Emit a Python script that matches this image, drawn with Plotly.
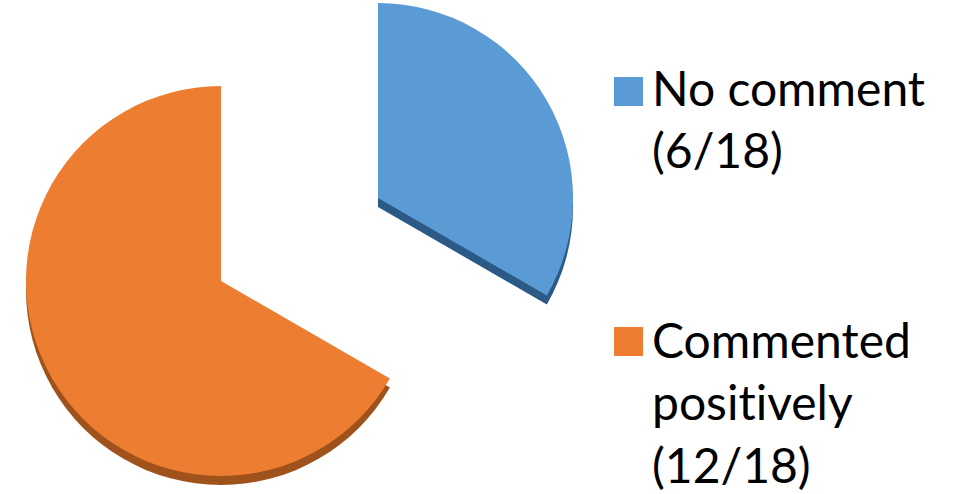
import plotly.graph_objects as go

# ---- data ----
labels = ["No comment", "Commented positively"]
legend_texts = ["No comment<br>(6/18)", "Commented<br>posit\u200cively<br>(12/18)"]
values = [6, 12]
colors = ["#5B9BD5", "#ED7D31"]
edge_colors = ["#2C5A86", "#A0521C"]

W, H = 959, 494
R = 195          # pie radius in px
DEPTH = 9        # 3D edge thickness in px
centers = [(378, 198), (221, 281)]  # apex position of each exploded slice

def dom(cx, cy):
    return dict(x=[(cx - R) / W, (cx + R) / W],
                y=[1 - (cy + R) / H, 1 - (cy - R) / H])

fig = go.Figure()
clear = "rgba(0,0,0,0)"
order = [1, 0]
for i in order:
    for shade, dy in ((edge_colors, DEPTH), (colors, 0)):
        cols = [clear, clear]
        cols[i] = shade[i]
        cx, cy = centers[i]
        fig.add_trace(go.Pie(
            labels=labels, values=values, sort=False,
            direction="clockwise", rotation=0,
            marker=dict(colors=cols, line=dict(width=0)),
            textinfo="none", hoverinfo="label+value",
            showlegend=False, domain=dom(cx, cy + dy),
        ))

# legend built from annotations + square swatches
leg_x = 614
sq = 29
leg_rows = [(77, 57), (327, 309)]  # top of swatch, top of text box
font = dict(family="Lato, Carlito, Calibri, sans-serif", size=48, color="#000000")
for k in range(2):
    top, ttop = leg_rows[k]
    fig.add_shape(type="rect", xref="paper", yref="paper",
                  x0=leg_x / W, x1=(leg_x + sq) / W,
                  y0=1 - (top + sq) / H, y1=1 - top / H,
                  fillcolor=colors[k], line=dict(width=0))
    fig.add_annotation(xref="paper", yref="paper", x=(leg_x + sq + 7) / W,
                       y=1 - ttop / H, xanchor="left", yanchor="top",
                       text=legend_texts[k], showarrow=False, align="left",
                       font=font)

fig.update_layout(width=W, height=H, margin=dict(l=0, r=0, t=0, b=0),
                  paper_bgcolor="white", plot_bgcolor="white")
fig.write_html("out.html")
